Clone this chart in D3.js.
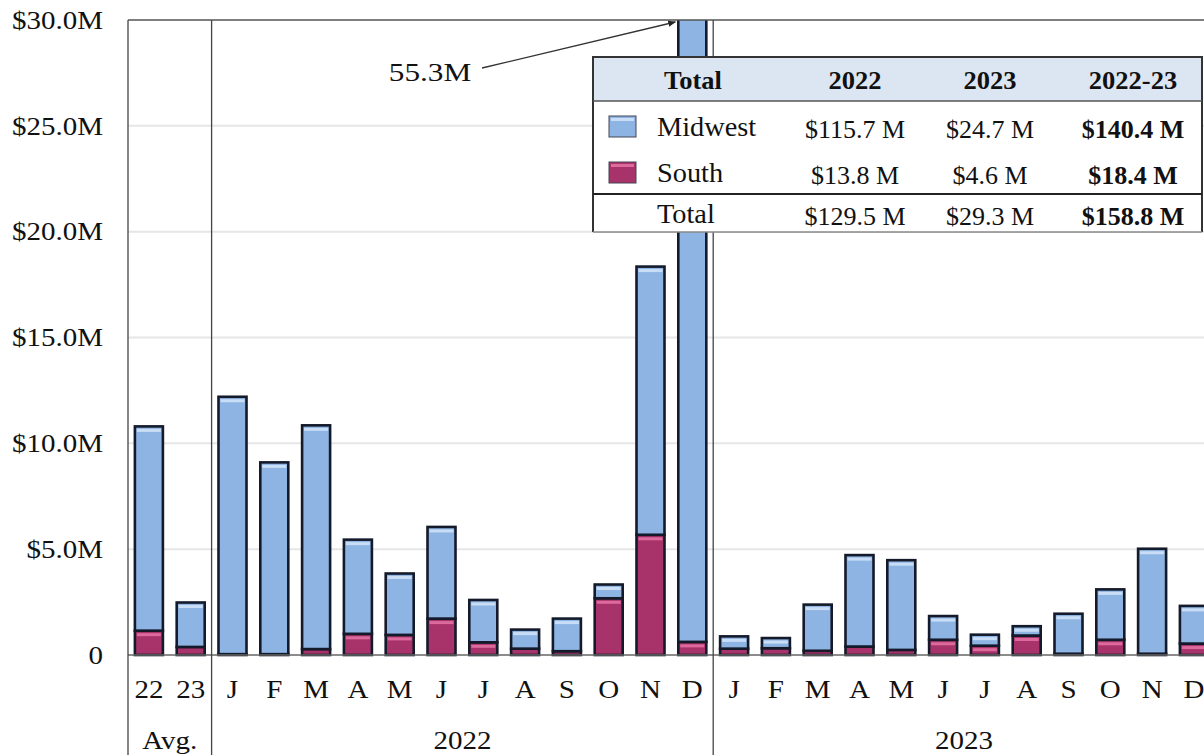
<!DOCTYPE html>
<html>
<head>
<meta charset="utf-8">
<script src="https://cdn.jsdelivr.net/npm/d3@7"></script>
<style>
  html, body { margin: 0; padding: 0; background: #fff; }
  svg { display: block; }
  text { font-family: "Liberation Serif", "Times New Roman", serif; fill: #111; }
</style>
</head>
<body>
<svg id="chart" width="1204" height="755"></svg>
<script>
// ---------------- data ----------------
const categories = ["22","23","J","F","M","A","M","J","J","A","S","O","N","D","J","F","M","A","M","J","J","A","S","O","N","D"];
const midwest = [9.65, 2.10, 12.16, 9.06, 10.57, 4.45, 2.90, 4.33, 2.00, 0.90, 1.54, 0.65, 12.67, 54.68,
                 0.58, 0.48, 2.18, 4.32, 4.24, 1.12, 0.52, 0.44, 1.89, 2.38, 4.96, 1.78];
const south   = [1.15, 0.38, 0.04, 0.04, 0.28, 1.00, 0.95, 1.72, 0.60, 0.30, 0.18, 2.68, 5.68, 0.62,
                 0.30, 0.32, 0.20, 0.40, 0.24, 0.72, 0.44, 0.92, 0.06, 0.72, 0.06, 0.54];
const groups = [ {label: "Avg.", start: 0, end: 2}, {label: "2022", start: 2, end: 14}, {label: "2023", start: 14, end: 26} ];
const yTicks = [0, 5, 10, 15, 20, 25, 30];
const yTickLabels = ["0", "$5.0M", "$10.0M", "$15.0M", "$20.0M", "$25.0M", "$30.0M"];
const seriesNames = ["Midwest", "South"];
const annotationLabel = "55.3M";
const annotationIndex = 13;
const tableHeader = ["Total", "2022", "2023", "2022-23"];
const tableRows = [
  ["Midwest", "$115.7 M", "$24.7 M", "$140.4 M"],
  ["South",   "$13.8 M",  "$4.6 M",  "$18.4 M"],
  ["Total",   "$129.5 M", "$29.3 M", "$158.8 M"]
];

// ---------------- layout ----------------
const colors = { Midwest: "#8db4e3", South: "#a8336b" };
const highlights = { Midwest: "#c9def6", South: "#dd6a9c" };
const SX = 1.16;         // horizontal stretch of the reference's text
const plotLeft = 128, plotTop = 20, plotBase = 655, slotStep = 41.8;
const svg = d3.select("#chart");

const x = d3.scaleBand().domain(d3.range(categories.length))
  .range([plotLeft, plotLeft + slotStep * categories.length]).paddingInner(0.33).paddingOuter(0.165);
const y = d3.scaleLinear().domain([0, 30]).range([plotBase, plotTop]);

function stext(parent, tx, ty, str, opts = {}) {
  const g = parent.append("g").attr("transform", `translate(${tx},${ty}) scale(${opts.sx || SX},1)`);
  return g.append("text")
    .attr("text-anchor", opts.anchor || "middle")
    .attr("dy", "0.35em")
    .style("font-size", (opts.size || 25) + "px")
    .style("font-weight", opts.bold ? "bold" : "normal")
    .text(str);
}

// gridlines
svg.append("g").selectAll("line").data(yTicks.filter(d => d > 0 && d < 30)).join("line")
  .attr("x1", plotLeft).attr("x2", 1204).attr("y1", d => y(d)).attr("y2", d => y(d))
  .attr("stroke", "#e6e6e6").attr("stroke-width", 2);

// y tick labels
const yl = svg.append("g");
yTicks.forEach((t, i) => {
  stext(yl, 103, y(t), yTickLabels[i], { anchor: "end" });
});

// bars
const stacked = categories.map((c, i) => ({ i, south: south[i], midwest: midwest[i] }));
const series = d3.stack().keys(["south", "midwest"])(stacked);
svg.append("clipPath").attr("id", "plotclip").append("rect")
  .attr("x", plotLeft).attr("y", plotTop).attr("width", 1204 - plotLeft).attr("height", plotBase - plotTop + 5);
const barsG = svg.append("g").attr("clip-path", "url(#plotclip)");
series.forEach(s => {
  const name = s.key === "south" ? "South" : "Midwest";
  const g = barsG.append("g");
  g.selectAll("rect.seg").data(s).join("rect").attr("class", "seg")
    .attr("x", d => x(d.data.i)).attr("width", x.bandwidth())
    .attr("y", d => y(d[1])).attr("height", d => Math.max(0, y(d[0]) - y(d[1])))
    .attr("fill", colors[name]).attr("stroke", "#141a2a").attr("stroke-width", 2.6);
  g.selectAll("rect.hl").data(s.filter(d => y(d[0]) - y(d[1]) > 9)).join("rect").attr("class", "hl")
    .attr("x", d => x(d.data.i) + 2).attr("width", x.bandwidth() - 4)
    .attr("y", d => y(d[1]) + 2.5).attr("height", 3)
    .attr("fill", highlights[name]);
});

// frame lines
svg.append("line").attr("x1", plotLeft).attr("x2", 1204).attr("y1", plotTop).attr("y2", plotTop)
  .attr("stroke", "#555").attr("stroke-width", 1.5);
svg.append("line").attr("x1", plotLeft).attr("x2", 1204).attr("y1", plotBase).attr("y2", plotBase)
  .attr("stroke", "#666").attr("stroke-width", 1.5);
const seps = [0, 2, 14];
svg.append("g").selectAll("line").data(seps).join("line")
  .attr("x1", d => x(d) - x.step() * 0.165).attr("x2", d => x(d) - x.step() * 0.165)
  .attr("y1", plotTop).attr("y2", 755).attr("stroke", "#444").attr("stroke-width", 1.3);

// category labels
const cl = svg.append("g");
categories.forEach((c, i) => stext(cl, x(i) + x.bandwidth() / 2, 689, c));
groups.forEach(g => {
  const x0 = x(g.start) - x.step() * 0.165, x1 = x0 + x.step() * (g.end - g.start);
  stext(cl, (x0 + x1) / 2, 740, g.label);
});

// annotation
svg.append("defs").append("marker").attr("id", "ah").attr("viewBox", "0 0 10 10")
  .attr("refX", 9).attr("refY", 5).attr("markerWidth", 6).attr("markerHeight", 6)
  .attr("orient", "auto").append("path").attr("d", "M0,1 L10,5 L0,9 Z").attr("fill", "#222");
const ax = x(annotationIndex) - 3, ay = y(30) + 2;
svg.append("line").attr("x1", 482).attr("y1", 68).attr("x2", ax).attr("y2", ay)
  .attr("stroke", "#333").attr("stroke-width", 1.3).attr("marker-end", "url(#ah)");
stext(svg, 430, 72, annotationLabel, { sx: 1.25 });

// summary table
const T = { x0: 593, x1: 1202, top: 57, headB: 101, div: 194, bot: 232 };
const tg = svg.append("g");
tg.append("rect").attr("x", T.x0).attr("y", T.top).attr("width", T.x1 - T.x0).attr("height", T.bot - T.top).attr("fill", "#fff");
tg.append("rect").attr("x", T.x0).attr("y", T.top).attr("width", T.x1 - T.x0).attr("height", T.headB - T.top).attr("fill", "#dce6f2");
tg.append("path").attr("d", `M${T.x0},${T.bot} L${T.x0},${T.top} L${T.x1},${T.top} L${T.x1},${T.bot}`)
  .attr("fill", "none").attr("stroke", "#333").attr("stroke-width", 2);
tg.append("line").attr("x1", T.x0).attr("x2", T.x1).attr("y1", T.headB).attr("y2", T.headB).attr("stroke", "#555").attr("stroke-width", 1.5);
tg.append("line").attr("x1", T.x0).attr("x2", T.x1).attr("y1", T.div).attr("y2", T.div).attr("stroke", "#222").attr("stroke-width", 2);
tg.append("line").attr("x1", T.x0).attr("x2", T.x1).attr("y1", T.bot).attr("y2", T.bot).attr("stroke", "#888").attr("stroke-width", 1.5);
const colX = [693, 855, 990, 1133];
const rowY = [127, 173, 214];
tableHeader.forEach((h, j) => stext(tg, colX[j], 80, h, { bold: true, size: 26, sx: 1.02 }));
tableRows.forEach((r, i) => {
  r.forEach((v, j) => {
    if (j === 0) stext(tg, 657, rowY[i], v, { anchor: "start", size: 27, sx: 1.05 });
    else stext(tg, colX[j], rowY[i] + 2, v, { bold: j === 3, size: 26, sx: 1.0 });
  });
});
seriesNames.forEach((n, i) => {
  tg.append("rect").attr("x", 609).attr("y", rowY[i] - 11).attr("width", 27).attr("height", 21)
    .attr("fill", colors[n]).attr("stroke", "#445").attr("stroke-width", 1);
  tg.append("rect").attr("x", 611).attr("y", rowY[i] - 9).attr("width", 23).attr("height", 3).attr("fill", highlights[n]);
});
</script>
</body>
</html>
